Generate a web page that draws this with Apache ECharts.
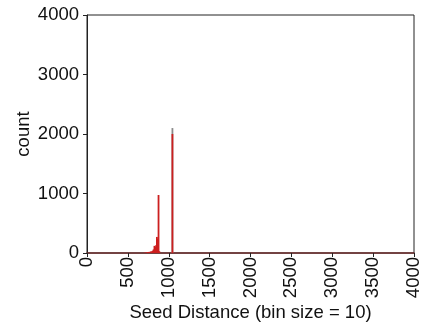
<!DOCTYPE html>
<html>
<head>
<meta charset="utf-8">
<script src="https://cdn.jsdelivr.net/npm/echarts@6/dist/echarts.min.js"></script>
<style>
  html, body { margin: 0; padding: 0; background: #fff; }
  #chart { width: 422px; height: 325px; }
</style>
</head>
<body>
<div id="chart"></div>
<script>
// bins of width 10, value = start of the bin
var binStarts = [700, 720, 740, 760, 780, 800, 810, 820, 830, 840, 850, 860, 870, 880, 1040];
var redCounts = [5, 10, 15, 20, 30, 40, 60, 120, 100, 130, 270, 240, 975, 30, 2000];
// parte gris encima del pico (total del bin)
var grayBins = [1040];
var grayTotals = [2100];
var xTicks = [0, 500, 1000, 1500, 2000, 2500, 3000, 3500, 4000];
var yTicks = [0, 1000, 2000, 3000, 4000];

var binSize = 10;

var chart = echarts.init(document.getElementById('chart'));

// datos de las barras (centro del bin)
var redData = binStarts.map(function (b, i) { return [b + binSize / 2, redCounts[i]]; });
var grayData = grayBins.map(function (b, i) { return [b + binSize / 2, grayTotals[i]]; });

var fuente = 'Liberation Sans, Arial, sans-serif';
var tam = 18.5;

var option = {
  animation: false,
  grid: {
    left: 87, right: 8, top: 15, bottom: 72,
    outerBoundsMode: 'none',
    show: true, borderColor: '#222', borderWidth: 1
  },
  xAxis: {
    type: 'value',
    min: xTicks[0],
    max: xTicks[xTicks.length - 1],
    interval: 500,
    name: 'Seed Distance (bin size = 10)',
    nameLocation: 'middle',
    nameGap: 50,
    nameMoveOverlap: false,
    nameTextStyle: { fontFamily: fuente, fontSize: tam, color: '#111' },
    axisLine: { lineStyle: { color: '#6b2a2a', width: 1.5 } },
    axisTick: { show: true, length: 4, lineStyle: { color: '#222' } },
    axisLabel: {
      rotate: 90, fontFamily: fuente, fontSize: tam, color: '#111', margin: 4,
      formatter: function (v) { return String(v); }
    },
    splitLine: { show: false }
  },
  yAxis: {
    type: 'value',
    min: yTicks[0],
    max: yTicks[yTicks.length - 1],
    interval: 1000,
    name: 'count',
    nameLocation: 'middle',
    nameGap: 54,
    nameMoveOverlap: false,
    nameTextStyle: { fontFamily: fuente, fontSize: tam, color: '#111' },
    axisLine: { show: true, lineStyle: { color: '#222' } },
    axisTick: { show: true, length: 4, lineStyle: { color: '#222' } },
    axisLabel: {
      fontFamily: fuente, fontSize: tam, color: '#111', margin: 8,
      formatter: function (v) { return String(v); }
    },
    splitLine: { show: false }
  },
  series: [
    {
      type: 'bar',
      data: grayData,
      barWidth: 1.8,
      barGap: '-100%',
      itemStyle: { color: '#8a8a8a' },
      z: 1
    },
    {
      type: 'bar',
      data: redData,
      barWidth: 1.8,
      barGap: '-100%',
      itemStyle: { color: '#cc1f1f' },
      z: 2
    }
  ]
};

chart.setOption(option);
</script>
</body>
</html>
